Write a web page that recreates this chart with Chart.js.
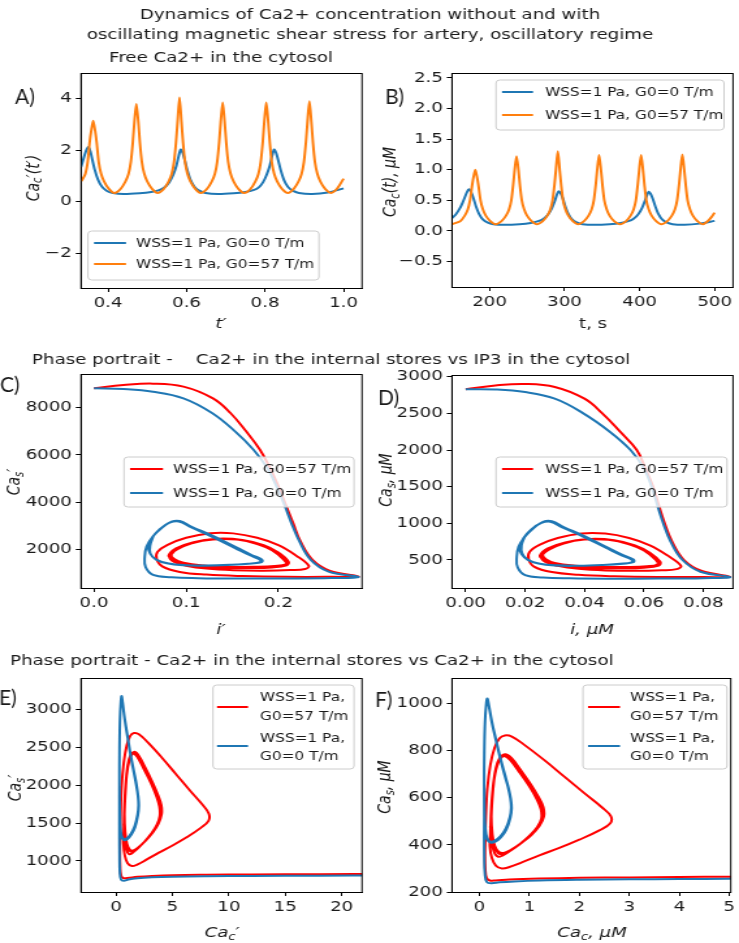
<!DOCTYPE html>
<html>
<head>
<meta charset="utf-8">
<script src="https://cdn.jsdelivr.net/npm/chart.js@4.4.1/dist/chart.umd.min.js"></script>
<style>
  html, body { margin: 0; padding: 0; background: #fff; }
  #fig { position: relative; width: 739px; height: 943px; overflow: hidden; }
  #fig canvas { position: absolute; left: 0; top: 0; width: 739px !important; height: 943px !important; }
</style>
</head>
<body>
<div id="fig">
  <canvas id="cA" width="568" height="943"></canvas>
  <canvas id="cB" width="568" height="943"></canvas>
  <canvas id="cC" width="568" height="943"></canvas>
  <canvas id="cD" width="568" height="943"></canvas>
  <canvas id="cE" width="568" height="943"></canvas>
  <canvas id="cF" width="568" height="943"></canvas>
</div>
<script>
// ---- A) free Ca2+, dimensionless  [t', Ca_c'] ----
const aBlue = [[0.331,1.35],[0.336,1.60],[0.341,1.85],[0.346,2.05],[0.350,2.12],[0.355,1.95],[0.360,1.62],[0.366,1.24],[0.374,0.87],[0.384,0.59],[0.396,0.43],[0.412,0.34],[0.440,0.30],[0.480,0.33],[0.510,0.38],[0.530,0.45],[0.544,0.56],[0.556,0.76],[0.566,1.05],[0.574,1.40],[0.580,1.78],[0.585,2.03],[0.590,1.90],[0.596,1.58],[0.602,1.22],[0.610,0.85],[0.620,0.58],[0.632,0.43],[0.648,0.34],[0.680,0.30],[0.720,0.33],[0.750,0.38],[0.770,0.45],[0.784,0.56],[0.795,0.76],[0.804,1.05],[0.812,1.40],[0.818,1.78],[0.823,2.03],[0.828,1.90],[0.834,1.58],[0.840,1.22],[0.848,0.85],[0.858,0.58],[0.870,0.43],[0.886,0.34],[0.920,0.30],[0.960,0.36],[1.000,0.52]];
const aOrange = [[0.331,0.80],[0.334,0.85],[0.342,1.08],[0.348,1.55],[0.353,2.30],[0.357,2.75],[0.362,3.15],[0.367,2.75],[0.371,2.30],[0.376,1.55],[0.382,1.10],[0.390,0.78],[0.402,0.50],[0.416,0.34],
  [0.432,0.50],[0.444,0.78],[0.452,1.08],[0.458,1.55],[0.463,2.30],[0.467,3.10],[0.472,3.80],[0.477,3.10],[0.481,2.30],[0.486,1.55],[0.492,1.10],[0.500,0.78],[0.512,0.50],[0.526,0.34],
  [0.542,0.50],[0.554,0.78],[0.562,1.08],[0.568,1.55],[0.573,2.30],[0.577,3.10],[0.582,4.05],[0.587,3.10],[0.591,2.30],[0.596,1.55],[0.602,1.10],[0.610,0.78],[0.622,0.50],[0.636,0.34],
  [0.652,0.50],[0.664,0.78],[0.672,1.08],[0.678,1.55],[0.683,2.30],[0.687,3.10],[0.692,3.85],[0.697,3.10],[0.701,2.30],[0.706,1.55],[0.712,1.10],[0.720,0.78],[0.732,0.50],[0.747,0.34],
  [0.763,0.50],[0.775,0.78],[0.783,1.08],[0.789,1.55],[0.794,2.30],[0.798,3.10],[0.803,3.85],[0.808,3.10],[0.812,2.30],[0.817,1.55],[0.823,1.10],[0.831,0.78],[0.843,0.50],[0.858,0.34],
  [0.873,0.50],[0.885,0.78],[0.893,1.08],[0.899,1.55],[0.904,2.30],[0.908,3.10],[0.913,3.90],[0.918,3.10],[0.922,2.30],[0.927,1.55],[0.933,1.10],[0.941,0.78],[0.953,0.50],[0.968,0.34],
  [0.980,0.45],[0.990,0.65],[1.000,0.90]];
const aXTicks = [0.4, 0.6, 0.8, 1.0], aXLabels = ['0.4', '0.6', '0.8', '1.0'];
const aYTicks = [-2, 0, 2, 4], aYLabels = ['\u22122', '0', '2', '4'];

// ---- B) free Ca2+, uM  [t s, Ca_c] ----
const bBlue = [[150,0.21],[155,0.27],[160,0.36],[164,0.46],[168,0.58],[171,0.66],[173,0.68],[176,0.62],[179,0.52],[182,0.40],[186,0.28],[191,0.19],[197,0.14],[205,0.11],[220,0.10],[240,0.11],[255,0.13],[265,0.16],[272,0.20],[278,0.27],[283,0.37],[287,0.49],[290,0.60],[292,0.65],[295,0.61],[298,0.52],[301,0.40],[305,0.28],[310,0.19],[316,0.14],[324,0.11],[340,0.10],[360,0.11],[375,0.13],[385,0.16],[392,0.20],[398,0.27],[403,0.37],[407,0.49],[410,0.59],[412,0.64],[415,0.60],[418,0.51],[421,0.40],[425,0.28],[430,0.19],[436,0.14],[444,0.11],[460,0.10],[480,0.12],[500,0.165]];
const bOrange = [[150,0.11],[161,0.16],[167,0.25],[171,0.35],[174,0.50],[176.5,0.72],[178.5,0.87],[181,1.00],[183.5,0.87],[185.5,0.72],[188,0.50],[191,0.36],[195,0.25],[201,0.16],[208,0.11],
  [216,0.16],[222,0.25],[226,0.35],[229,0.50],[231.5,0.75],[233.5,1.00],[236,1.22],[238.5,1.00],[240.5,0.75],[243,0.50],[246,0.36],[250,0.25],[256,0.16],[263,0.11],
  [271,0.16],[277,0.25],[281,0.35],[284,0.50],[286.5,0.75],[288.5,1.00],[291,1.30],[293.5,1.00],[295.5,0.75],[298,0.50],[301,0.36],[305,0.25],[311,0.16],[318,0.11],
  [326,0.16],[332,0.25],[336,0.35],[339,0.50],[341.5,0.75],[343.5,1.00],[346,1.24],[348.5,1.00],[350.5,0.75],[353,0.50],[356,0.36],[360,0.25],[366,0.16],[374,0.11],
  [382,0.16],[388,0.25],[392,0.35],[395,0.50],[397.5,0.75],[399.5,1.00],[402,1.24],[404.5,1.00],[406.5,0.75],[409,0.50],[412,0.36],[416,0.25],[422,0.16],[429,0.11],
  [437,0.16],[443,0.25],[447,0.35],[450,0.50],[452.5,0.75],[454.5,1.00],[457,1.25],[459.5,1.00],[461.5,0.75],[464,0.50],[467,0.36],[471,0.25],[477,0.16],[484,0.11],
  [490,0.15],[496,0.23],[500,0.30]];
const bXTicks = [200, 300, 400, 500], bXLabels = ['200', '300', '400', '500'];
const bYTicks = [-0.5, 0, 0.5, 1, 1.5, 2, 2.5], bYLabels = ['\u22120.5', '0.0', '0.5', '1.0', '1.5', '2.0', '2.5'];

// ---- C) phase portrait, dimensionless  [i', Ca_s'] ----
const cRed = [[0,8820],[0.032,8957],[0.064,9019],[0.097,8895],[0.129,8397],[0.148,7775],[0.165,6998],[0.180,6220],[0.191,5443],[0.200,4665],[0.208,3888],[0.216,3110],[0.224,2333],[0.237,1555],[0.256,1089],[0.287,846],
  [0.258,833],[0.209,833],[0.161,865],[0.122,927],[0.093,1042],[0.074,1275],[0.068,1586],
  [0.069,1897],[0.081,2208],[0.100,2488],[0.126,2681],[0.151,2675],[0.177,2488],[0.200,2177],[0.219,1742],[0.233,1306],[0.229,1166],[0.213,1120],[0.184,1095],[0.151,1113],[0.122,1182],[0.100,1306],[0.087,1462],
  [0.082,1679],[0.090,1990],[0.106,2255],[0.129,2420],[0.155,2410],[0.177,2224],[0.193,1959],[0.206,1555],[0.208,1368],[0.196,1291],[0.174,1260],[0.145,1260],[0.119,1312],[0.097,1431],[0.087,1586],
  [0.084,1788],[0.093,2084],[0.113,2333],[0.135,2451],[0.161,2395],[0.184,2177],[0.200,1866],[0.211,1477],[0.209,1322],[0.193,1228],[0.167,1207],[0.138,1219],[0.113,1281],[0.093,1406],[0.084,1586],
  [0.081,1742],[0.089,2037],[0.108,2301],[0.132,2432],[0.158,2401],[0.180,2193],[0.196,1897],[0.209,1508],[0.208,1337],[0.195,1260],[0.171,1232],[0.142,1238],[0.116,1300],[0.095,1418],[0.084,1617]];
const cBlue = [[0,8820],[0.032,8789],[0.064,8677],[0.097,8397],[0.128,7775],[0.153,6998],[0.173,6220],[0.188,5443],[0.198,4665],[0.2065,3888],[0.2141,3110],[0.2228,2333],[0.2351,1555],[0.2544,1057],[0.287,833],
  [0.258,784],[0.209,765],[0.161,762],[0.113,778],[0.084,815],[0.064,917],[0.056,1244],[0.055,1679],[0.057,2115],
  [0.064,2550],[0.074,2923],[0.084,3172],[0.093,3197],[0.106,2955],[0.129,2566],[0.155,2068],[0.171,1757],[0.182,1571],[0.182,1462],[0.171,1400],[0.148,1344],[0.122,1312],[0.100,1328],[0.081,1400],[0.068,1555],[0.061,1804],[0.059,2115],
  [0.063,2488],[0.071,2846],[0.082,3126],[0.092,3178],[0.105,2939],[0.127,2550],[0.153,2053],[0.169,1748],[0.180,1555],[0.180,1455],[0.167,1393],[0.145,1337],[0.119,1306],[0.097,1322],[0.079,1406],[0.067,1571],[0.061,1835],[0.061,2177],[0.064,2519]];
const cXTicks = [0, 0.1, 0.2], cXLabels = ['0.0', '0.1', '0.2'];
const cYTicks = [2000, 4000, 6000, 8000], cYLabels = ['2000', '4000', '6000', '8000'];

// ---- D) phase portrait, uM  [i, Ca_s] ----
const dRed = [[0.000,2830],[0.010,2880],[0.020,2900],[0.030,2860],[0.040,2700],[0.046,2500],[0.052,2250],[0.0576,2000],[0.0605,1750],[0.0631,1500],[0.0650,1250],[0.0670,1000],[0.0695,750],[0.0735,500],[0.0795,350],[0.089,272],
  [0.080,268],[0.065,268],[0.050,278],[0.038,298],[0.029,335],[0.023,410],[0.0212,510],
  [0.0215,610],[0.025,710],[0.031,800],[0.039,862],[0.047,860],[0.055,800],[0.062,700],[0.068,560],[0.0725,420],[0.071,375],[0.066,360],[0.057,352],[0.047,358],[0.038,380],[0.031,420],[0.027,470],
  [0.0255,540],[0.028,640],[0.033,725],[0.040,778],[0.048,775],[0.055,715],[0.060,630],[0.064,500],[0.0645,440],[0.061,415],[0.054,405],[0.045,405],[0.037,422],[0.030,460],[0.027,510],
  [0.026,575],[0.029,670],[0.035,750],[0.042,788],[0.050,770],[0.057,700],[0.062,600],[0.0655,475],[0.065,425],[0.060,395],[0.052,388],[0.043,392],[0.035,412],[0.029,452],[0.026,510],
  [0.025,560],[0.0275,655],[0.0335,740],[0.041,782],[0.049,772],[0.056,705],[0.061,610],[0.0648,485],[0.0645,430],[0.0605,405],[0.053,396],[0.044,398],[0.036,418],[0.0295,456],[0.0262,520]];
const dBlue = [[0.000,2830],[0.010,2826],[0.020,2790],[0.030,2700],[0.0396,2500],[0.0485,2250],[0.0555,2000],[0.0600,1750],[0.0626,1500],[0.0645,1250],[0.0665,1000],[0.0690,750],[0.0730,500],[0.0790,340],[0.089,268],
  [0.080,252],[0.065,246],[0.050,245],[0.035,250],[0.026,262],[0.020,295],[0.0175,400],[0.0172,540],[0.0178,680],
  [0.020,820],[0.023,940],[0.026,1020],[0.029,1028],[0.033,950],[0.040,825],[0.048,665],[0.053,565],[0.0565,505],[0.0565,470],[0.053,450],[0.046,432],[0.038,422],[0.031,427],[0.025,450],[0.021,500],[0.0188,580],[0.0182,680],
  [0.0195,800],[0.022,915],[0.0255,1005],[0.0285,1022],[0.0325,945],[0.0395,820],[0.0475,660],[0.0525,562],[0.056,500],[0.0558,468],[0.052,448],[0.045,430],[0.037,420],[0.030,425],[0.0245,452],[0.0208,505],[0.019,590],[0.0188,700],[0.0198,810]];
const dXTicks = [0, 0.02, 0.04, 0.06, 0.08], dXLabels = ['0.00', '0.02', '0.04', '0.06', '0.08'];
const dYTicks = [500, 1000, 1500, 2000, 2500, 3000], dYLabels = ['500', '1000', '1500', '2000', '2500', '3000'];

// ---- E) phase portrait, dimensionless  [Ca_c', Ca_s'] ----
const eRed = [[24,828],[18,826],[12,822],[8,818],[5,812],[3.2,802],[1.9,790],[1.0,776],[0.65,774],[0.45,808],[0.37,930],[0.35,1120],[0.37,1306],
  [0.41,1617],[0.50,1990],[0.69,2301],[0.94,2519],[1.25,2650],[1.60,2690],[2.03,2675],[2.82,2566],[4.07,2364],[5.32,2146],[6.57,1928],[7.67,1742],[8.23,1623],[8.20,1530],[7.51,1437],[6.26,1312],[5.01,1204],[3.76,1107],[2.66,1014],[1.88,952],[1.41,933],[1.03,970],[0.78,1073],[0.66,1228],
  [0.69,1400],[0.75,1742],[0.91,2084],[1.19,2333],[1.57,2426],[1.94,2379],[2.50,2224],[3.13,2037],[3.60,1866],[3.91,1726],[3.94,1602],[3.69,1487],[3.19,1368],[2.57,1260],[1.97,1176],[1.50,1126],[1.19,1135],[0.94,1213],[0.78,1337],
  [0.75,1617],[0.85,1944],[1.00,2208],[1.25,2379],[1.60,2441],[2.00,2395],[2.57,2239],[3.19,2053],[3.69,1882],[4.01,1742],[4.04,1617],[3.76,1493],[3.26,1375],[2.63,1269],[2.00,1182],[1.53,1138],[1.22,1151],[0.97,1228],[0.81,1384],
  [0.75,1648],[0.85,1990],[1.03,2255],[1.28,2395],[1.57,2420],[1.91,2370],[2.47,2214],[3.10,2028],[3.57,1860],[3.85,1717],[3.88,1592],[3.63,1480],[3.13,1362],[2.50,1250],[1.91,1163],[1.47,1107],[1.16,1089],[0.91,1157],[0.75,1306],[0.69,1493]];
const eBlue = [[24,808],[18,806],[12,802],[8,798],[5,792],[3.2,784],[1.9,772],[1.1,756],[0.7,738],[0.45,752],[0.34,860],[0.31,1080],[0.30,1330],
  [0.30,1617],[0.30,2022],[0.31,2488],[0.36,2892],[0.44,3126],[0.50,3178],[0.59,3094],[0.78,2877],[1.03,2644],[1.31,2395],[1.60,2177],[1.82,2006],[1.97,1850],[2.02,1726],[1.94,1602],[1.69,1446],[1.35,1344],[1.00,1288],[0.69,1275],[0.47,1322],[0.36,1446],[0.31,1679],
  [0.30,1990],[0.31,2457],[0.35,2861],[0.43,3110],[0.49,3166],[0.59,3079],[0.78,2861],[1.03,2628],[1.31,2379],[1.57,2177],[1.78,2015],[1.94,1860],[1.99,1735],[1.91,1611],[1.66,1462],[1.31,1356],[0.97,1300],[0.69,1288],[0.49,1337],[0.38,1462],[0.33,1695],[0.31,1990]];
const eXTicks = [0, 5, 10, 15, 20], eXLabels = ['0', '5', '10', '15', '20'];
const eYTicks = [1000, 1500, 2000, 2500, 3000], eYLabels = ['1000', '1500', '2000', '2500', '3000'];

// ---- F) phase portrait, uM  [Ca_c, Ca_s] ----
const fRed = [[6,266],[5,265],[4,264],[3,262],[2,260],[1.2,257],[0.6,253],[0.32,249],[0.21,249],[0.145,260],[0.118,300],[0.112,360],[0.118,420],
  [0.13,520],[0.16,640],[0.22,740],[0.30,810],[0.40,852],[0.51,865],[0.65,860],[0.90,825],[1.30,760],[1.70,690],[2.10,620],[2.45,560],[2.63,522],[2.62,492],[2.40,462],[2.00,422],[1.60,387],[1.20,356],[0.85,326],[0.60,306],[0.45,300],[0.33,312],[0.25,345],[0.21,395],
  [0.22,450],[0.24,560],[0.29,670],[0.38,750],[0.50,780],[0.62,765],[0.80,715],[1.00,655],[1.15,600],[1.25,555],[1.26,515],[1.18,478],[1.02,440],[0.82,405],[0.63,378],[0.48,362],[0.38,365],[0.30,390],[0.25,430],
  [0.24,520],[0.27,625],[0.32,710],[0.40,765],[0.51,785],[0.64,770],[0.82,720],[1.02,660],[1.18,605],[1.28,560],[1.29,520],[1.20,480],[1.04,442],[0.84,408],[0.64,380],[0.49,366],[0.39,370],[0.31,395],[0.26,445],
  [0.24,530],[0.27,640],[0.33,725],[0.41,770],[0.50,778],[0.61,762],[0.79,712],[0.99,652],[1.14,598],[1.23,552],[1.24,512],[1.16,476],[1.00,438],[0.80,402],[0.61,374],[0.47,356],[0.37,350],[0.29,372],[0.24,420],[0.22,480]];
const fBlue = [[6,257],[5,256],[4,255],[3,254],[2,252],[1.2,249],[0.7,245],[0.4,241],[0.24,237],[0.15,242],[0.11,278],[0.098,350],[0.095,430],
  [0.097,520],[0.095,650],[0.10,800],[0.115,930],[0.14,1005],[0.16,1022],[0.19,995],[0.25,925],[0.33,850],[0.42,770],[0.51,700],[0.58,645],[0.63,595],[0.645,555],[0.62,515],[0.54,465],[0.43,432],[0.32,414],[0.22,410],[0.15,425],[0.115,465],[0.10,540],
  [0.095,640],[0.098,790],[0.112,920],[0.138,1000],[0.158,1018],[0.19,990],[0.25,920],[0.33,845],[0.42,765],[0.50,700],[0.57,648],[0.62,598],[0.635,558],[0.61,518],[0.53,470],[0.42,436],[0.31,418],[0.22,414],[0.155,430],[0.12,470],[0.105,545],[0.10,640]];
const fXTicks = [0, 1, 2, 3, 4, 5], fXLabels = ['0', '1', '2', '3', '4', '5'];
const fYTicks = [200, 400, 600, 800, 1000], fYLabels = ['200', '400', '600', '800', '1000'];

const legG0 = 'WSS=1 Pa, G0=0 T/m', legG57 = 'WSS=1 Pa, G0=57 T/m';

// ---------------------------------------------------------------------------
// the figure looks horizontally stretched, so draw narrow and let css widen it
const S = 739 / 568;
const X = v => v / S;
const BLUE = '#1f77b4', ORANGE = '#ff7f0e', RED = '#ff0000';
const INK = '#1a1a1a';
Chart.defaults.font.family = 'DejaVu Sans';

function drawRich(ctx, it) {
  const size = it.size || 14;
  const fam = it.family || 'DejaVu Sans';
  const segs = typeof it.t === 'string' ? [[it.t, it.style || 'n']] : it.t;
  const fontOf = st => (st === 'n' ? '' : 'italic ') + (st === 's' ? size * 0.7 : size) + 'px "' + fam + '"';
  ctx.save();
  ctx.translate(X(it.x), it.y);
  if (it.rot) ctx.rotate(-Math.PI / 2);
  if (it.plain) ctx.scale(1 / S, 1);
  let total = 0;
  const widths = segs.map(([t, st]) => { ctx.font = fontOf(st); const w = ctx.measureText(t).width; total += w; return w; });
  let x0 = it.align === 'left' ? 0 : -total / 2;
  ctx.fillStyle = it.color || INK;
  ctx.textBaseline = 'alphabetic';
  const base = size * 0.36;
  segs.forEach(([t, st], i) => {
    ctx.font = fontOf(st);
    ctx.fillText(t, x0, st === 's' ? base + size * 0.2 : base);
    x0 += widths[i];
  });
  ctx.restore();
}

const textPlugin = {
  id: 'figText',
  afterDraw(chart, args, opts) {
    (opts.items || []).forEach(it => drawRich(chart.ctx, it));
  }
};

const framePlugin = {
  id: 'frame',
  afterDatasetsDraw(chart) {
    const a = chart.chartArea, ctx = chart.ctx;
    ctx.save();
    ctx.strokeStyle = '#000';
    ctx.lineWidth = 1;
    ctx.strokeRect(a.left, a.top + 0.5, a.right - a.left, a.bottom - a.top);
    ctx.restore();
  }
};

const legendPlugin = {
  id: 'boxLegend',
  afterDraw(chart, args, o) {
    if (!o || !o.box) return;
    const ctx = chart.ctx;
    const x0 = X(o.box[0]), y0 = o.box[1], x1 = X(o.box[2]), y1 = o.box[3], r = 3;
    ctx.save();
    ctx.beginPath();
    ctx.moveTo(x0 + r, y0);
    ctx.arcTo(x1, y0, x1, y1, r);
    ctx.arcTo(x1, y1, x0, y1, r);
    ctx.arcTo(x0, y1, x0, y0, r);
    ctx.arcTo(x0, y0, x1, y0, r);
    ctx.closePath();
    ctx.fillStyle = 'rgba(255,255,255,0.8)';
    ctx.fill();
    ctx.strokeStyle = '#cccccc';
    ctx.lineWidth = 1;
    ctx.stroke();
    o.rows.forEach(row => {
      ctx.beginPath();
      ctx.moveTo(X(o.lineX[0]), row.y);
      ctx.lineTo(X(o.lineX[1]), row.y);
      ctx.strokeStyle = row.color;
      ctx.lineWidth = 2;
      ctx.stroke();
      row.text.forEach(([t, ty]) => drawRich(ctx, { x: o.textX, y: ty, t: t, align: 'left', size: 11.8 }));
    });
    ctx.restore();
  }
};

function axis(lim, ticks, labels, isX) {
  return {
    type: 'linear',
    min: lim[0],
    max: lim[1],
    afterBuildTicks: sc => { sc.ticks = ticks.map(v => ({ value: v })); },
    afterFit: sc => { if (isX) sc.height = 30; else sc.width = 50; },
    ticks: {
      autoSkip: false, maxRotation: 0, padding: 3, color: INK,
      font: { size: 14 },
      callback: (v, i) => labels[i]
    },
    grid: { drawOnChartArea: false, drawTicks: true, tickLength: 4, color: '#000', tickColor: '#000' },
    border: { display: true, color: '#000', width: 1 }
  };
}

function makePanel(p) {
  const [l, t, r, b] = p.area;
  new Chart(document.getElementById(p.id), {
    type: 'scatter',
    data: {
      datasets: p.series.map(s => ({
        data: s.data.map(q => ({ x: q[0], y: q[1] })),
        borderColor: s.color,
        backgroundColor: s.color,
        borderWidth: 2,
        showLine: true,
        pointRadius: 0,
        tension: p.tension,
        fill: false
      }))
    },
    options: {
      responsive: false,
      animation: false,
      events: [],
      layout: { padding: { left: X(l) - 50, top: t, right: 568 - X(r), bottom: 943 - b - 30 } },
      scales: {
        x: axis(p.xLim, p.xTicks, p.xLabels, true),
        y: axis(p.yLim, p.yTicks, p.yLabels, false)
      },
      plugins: {
        legend: { display: false },
        tooltip: { enabled: false },
        boxLegend: p.legend,
        figText: { items: p.texts }
      }
    },
    plugins: [framePlugin, legendPlugin, textPlugin]
  });
}

const figTexts = [
  { x: 370, y: 14, t: 'Dynamics of Ca2+ concentration without and with', size: 14 },
  { x: 370, y: 34, t: 'oscillating magnetic shear stress for artery, oscillatory regime', size: 14 },
  { x: 221, y: 57, t: 'Free Ca2+ in the cytosol', size: 14 },
  { x: 32, y: 359, t: 'Phase portrait -    Ca2+ in the internal stores vs IP3 in the cytosol', size: 14, align: 'left' },
  { x: 10, y: 660, t: 'Phase portrait - Ca2+ in the internal stores vs Ca2+ in the cytosol', size: 14, align: 'left' },
  { x: 15, y: 96, t: 'A)', size: 21, family: 'Lato', align: 'left', plain: true },
  { x: 385, y: 96, t: 'B)', size: 21, family: 'Lato', align: 'left', plain: true },
  { x: 0, y: 384, t: 'C)', size: 21, family: 'Lato', align: 'left', plain: true },
  { x: 378, y: 397, t: 'D)', size: 21, family: 'Lato', align: 'left', plain: true },
  { x: -1, y: 697, t: 'E)', size: 21, family: 'Lato', align: 'left', plain: true },
  { x: 375, y: 699, t: 'F)', size: 21, family: 'Lato', align: 'left', plain: true }
];

const twoRowsRB = (a, b) => [
  { color: a[0], y: 469, text: [[a[1], 469]] },
  { color: b[0], y: 493, text: [[b[1], 493]] }
];
const splitRows = [
  { color: RED, y: 707, text: [['WSS=1 Pa,', 697], ['G0=57 T/m', 716]] },
  { color: BLUE, y: 746, text: [['WSS=1 Pa,', 738], ['G0=0 T/m', 756]] }
];

makePanel({
  id: 'cA', area: [81, 73, 362, 288], tension: 0.25,
  xLim: [0.331, 1.047], yLim: [-3.35, 5.0],
  xTicks: aXTicks, xLabels: aXLabels, yTicks: aYTicks, yLabels: aYLabels,
  series: [{ data: aOrange, color: ORANGE }, { data: aBlue, color: BLUE }],
  legend: { box: [88, 231, 319, 280], lineX: [94, 126], textX: 136,
    rows: [{ color: BLUE, y: 243, text: [[legG0, 243]] }, { color: ORANGE, y: 264, text: [[legG57, 264]] }] },
  texts: figTexts.concat([
    { x: 32, y: 178, rot: true, t: [['Ca', 'i'], ['c', 's'], ['\u2032(t\u2032)', 'i']] },
    { x: 221, y: 323, t: [['t\u2032', 'i']] }
  ])
});

makePanel({
  id: 'cB', area: [452, 73, 733, 287], tension: 0.25,
  xLim: [150, 524.5], yLim: [-0.915, 2.58],
  xTicks: bXTicks, xLabels: bXLabels, yTicks: bYTicks, yLabels: bYLabels,
  series: [{ data: bOrange, color: ORANGE }, { data: bBlue, color: BLUE }],
  legend: { box: [496, 80, 724, 130], lineX: [502, 533], textX: 545,
    rows: [{ color: BLUE, y: 92, text: [[legG0, 92]] }, { color: ORANGE, y: 115, text: [[legG57, 115]] }] },
  texts: [
    { x: 389, y: 182, rot: true, t: [['Ca', 'i'], ['c', 's'], ['(t), \u03bcM', 'i']] },
    { x: 593, y: 323, t: 't, s' }
  ]
});

makePanel({
  id: 'cC', area: [81, 374, 362, 588], tension: 0.4,
  xLim: [-0.0141, 0.2907], yLim: [360, 9428],
  xTicks: cXTicks, xLabels: cXLabels, yTicks: cYTicks, yLabels: cYLabels,
  series: [{ data: cBlue, color: BLUE }, { data: cRed, color: RED }],
  legend: { box: [124, 457, 354, 507], lineX: [130, 163], textX: 173, rows: twoRowsRB([RED, legG57], [BLUE, legG0]) },
  texts: [
    { x: 13, y: 482, rot: true, t: [['Ca', 'i'], ['s', 's'], ['\u2032', 'i']] },
    { x: 221, y: 629, t: [['i\u2032', 'i']] }
  ]
});

makePanel({
  id: 'cD', area: [452, 375, 733, 588], tension: 0.4,
  xLim: [-0.0046, 0.0900], yLim: [118, 3023],
  xTicks: dXTicks, xLabels: dXLabels, yTicks: dYTicks, yLabels: dYLabels,
  series: [{ data: dBlue, color: BLUE }, { data: dRed, color: RED }],
  legend: { box: [496, 457, 727, 507], lineX: [502, 533], textX: 545, rows: twoRowsRB([RED, legG57], [BLUE, legG0]) },
  texts: [
    { x: 385, y: 480, rot: true, t: [['Ca', 'i'], ['s', 's'], [', \u03bcM', 'i']] },
    { x: 592, y: 629, t: [['i, \u03bcM', 'i']] }
  ]
});

makePanel({
  id: 'cE', area: [81, 678, 362, 892], tension: 0.4,
  xLim: [-3.1, 21.8], yLim: [590, 3417],
  xTicks: eXTicks, xLabels: eXLabels, yTicks: eYTicks, yLabels: eYLabels,
  series: [{ data: eBlue, color: BLUE }, { data: eRed, color: RED }],
  legend: { box: [213, 685, 354, 769], lineX: [217, 248], textX: 260, rows: splitRows },
  texts: [
    { x: 14, y: 788, rot: true, t: [['Ca', 'i'], ['s', 's'], ['\u2032', 'i']] },
    { x: 222, y: 932, t: [['Ca', 'i'], ['c', 's'], ['\u2032', 'i']] }
  ]
});

makePanel({
  id: 'cF', area: [452, 678, 733, 892], tension: 0.4,
  xLim: [-0.547, 5.03], yLim: [200, 1109],
  xTicks: fXTicks, xLabels: fXLabels, yTicks: fYTicks, yLabels: fYLabels,
  series: [{ data: fBlue, color: BLUE }, { data: fRed, color: RED }],
  legend: { box: [583, 685, 727, 769], lineX: [588, 620], textX: 630, rows: splitRows },
  texts: [
    { x: 384, y: 787, rot: true, t: [['Ca', 'i'], ['s', 's'], [', \u03bcM', 'i']] },
    { x: 592, y: 932, t: [['Ca', 'i'], ['c', 's'], [', \u03bcM', 'i']] }
  ]
});
</script>
</body>
</html>
